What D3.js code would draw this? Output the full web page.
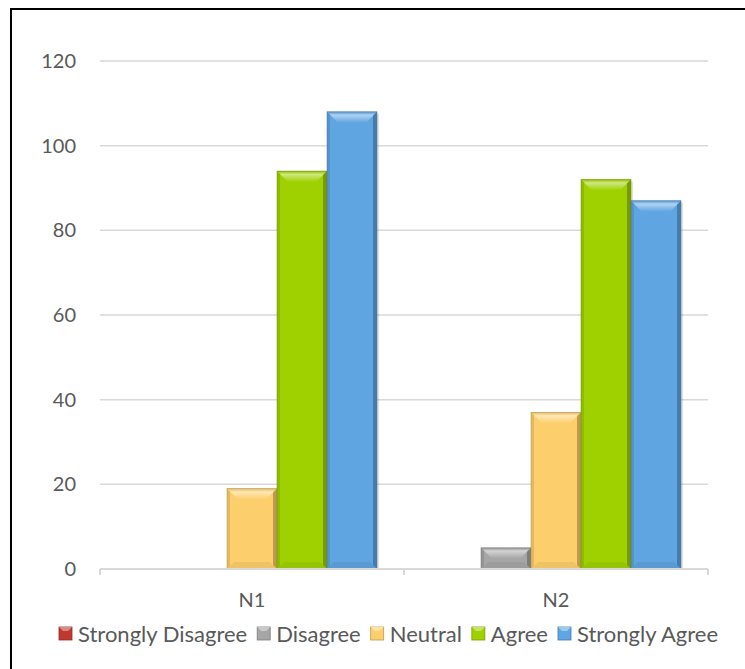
<!DOCTYPE html>
<html>
<head>
<meta charset="utf-8">
<script src="https://cdn.jsdelivr.net/npm/d3@7"></script>
<style>
  html, body { margin: 0; padding: 0; background: #fff; }
  svg { display: block; }
  text { font-family: Lato, "Open Sans", sans-serif; fill: #595959; }
</style>
</head>
<body>
<svg id="chart" width="745" height="669"></svg>
<script>
// Survey responses per item
const categories = ["N1", "N2"];
const seriesNames = ["Strongly Disagree", "Disagree", "Neutral", "Agree", "Strongly Agree"];
const seriesColors = ["#c0392f", "#a6a6a6", "#fdcf6c", "#9fd100", "#5fa5e2"];
const valuesN1 = [0, 0, 19, 94, 108];
const valuesN2 = [0, 5, 37, 92, 87];
const yTicks = [0, 20, 40, 60, 80, 100, 120];

const rows = [valuesN1, valuesN2];
const FONT = "20px";
const LEGEND_FONT = "22px";

const svg = d3.select("#chart");
const defs = svg.append("defs");

// Chart frame (top and left edges visible)
svg.append("path")
  .attr("d", "M11,669 L11,9 L745,9")
  .attr("fill", "none").attr("stroke", "#000").attr("stroke-width", 2);

const g = svg.append("g").attr("transform", "translate(100,61)");

const x0 = d3.scaleBand().domain(categories).range([0, 608]);
const x1 = d3.scaleBand().domain(seriesNames).range([27, x0.bandwidth() - 27]);
const y = d3.scaleLinear().domain([0, 120]).range([508, 0]);

// Gridlines
g.selectAll(".grid").data(yTicks.filter(d => d > 0)).join("line")
  .attr("x1", 0).attr("x2", 608)
  .attr("y1", d => y(d)).attr("y2", d => y(d))
  .attr("stroke", "#d9d9d9").attr("stroke-width", 1.5);

// Y tick labels
g.selectAll(".ylab").data(yTicks).join("text")
  .attr("x", -24).attr("y", d => y(d)).attr("dy", "0.35em")
  .attr("text-anchor", "end").style("font-size", FONT)
  .text(d => d);

// Gradients for the top bevel of each series
seriesColors.forEach((c, i) => {
  const base = d3.color(c);
  const gr = defs.append("linearGradient").attr("id", "top" + i)
    .attr("x1", 0).attr("y1", 0).attr("x2", 0).attr("y2", 1);
  gr.append("stop").attr("offset", "0%").attr("stop-color", base.darker(0.3).formatHex());
  gr.append("stop").attr("offset", "30%").attr("stop-color", d3.interpolateRgb(base, "#fff")(0.5));
  gr.append("stop").attr("offset", "100%").attr("stop-color", base.formatHex());
});

// Bars with bevelled edges
const pts = arr => arr.map(p => p.join(",")).join(" ");
categories.forEach((cat, ci) => {
  const gc = g.append("g").attr("transform", `translate(${x0(cat)},0)`);
  seriesNames.forEach((s, si) => {
    const v = rows[ci][si];
    if (!v) return;
    const bx = x1(s), bw = x1.bandwidth(), by = y(v), bh = y(0) - y(v);
    const base = d3.color(seriesColors[si]);
    const dark = base.darker(1.0);
    const mid = base.darker(0.4);
    const b = Math.min(11, bh / 2);
    // soft shadow
    gc.append("rect").attr("x", bx + 2).attr("y", by + 2).attr("width", bw).attr("height", bh - 2)
      .attr("fill", "#000").attr("opacity", 0.12);
    gc.append("rect").attr("x", bx).attr("y", by).attr("width", bw).attr("height", bh)
      .attr("fill", base.formatHex());
    // top bevel
    gc.append("polygon")
      .attr("points", pts([[bx, by], [bx + bw, by], [bx + bw - b, by + b], [bx + b, by + b]]))
      .attr("fill", `url(#top${si})`);
    // left bevel
    gc.append("polygon")
      .attr("points", pts([[bx, by], [bx + 3, by + 3], [bx + 3, by + bh - 3], [bx, by + bh]]))
      .attr("fill", mid.formatHex()).attr("opacity", 0.8);
    // right bevel
    gc.append("polygon")
      .attr("points", pts([[bx + bw, by], [bx + bw - 4, by + 4], [bx + bw - 4, by + bh - 4], [bx + bw, by + bh]]))
      .attr("fill", dark.formatHex()).attr("opacity", 0.85);
    // bottom bevel
    const bb = Math.min(7, bh / 3);
    gc.append("polygon")
      .attr("points", pts([[bx, by + bh], [bx + bb, by + bh - bb], [bx + bw - bb, by + bh - bb], [bx + bw, by + bh]]))
      .attr("fill", mid.formatHex()).attr("opacity", 0.45);
    // outline
    gc.append("rect").attr("x", bx).attr("y", by).attr("width", bw).attr("height", bh)
      .attr("fill", "none").attr("stroke", dark.formatHex()).attr("stroke-width", 0.8).attr("opacity", 0.6);
  });
});

// X axis line with boundary ticks
g.append("line").attr("x1", 0).attr("x2", 608).attr("y1", y(0)).attr("y2", y(0))
  .attr("stroke", "#d9d9d9").attr("stroke-width", 2);
const bounds = [0, x0.bandwidth(), 608];
g.selectAll(".xtick").data(bounds).join("line")
  .attr("x1", d => d).attr("x2", d => d).attr("y1", y(0)).attr("y2", y(0) + 6)
  .attr("stroke", "#d9d9d9").attr("stroke-width", 2);

// Category labels
g.selectAll(".xlab").data(categories).join("text")
  .attr("x", d => x0(d) + x0.bandwidth() / 2).attr("y", y(0) + 38)
  .attr("text-anchor", "middle").style("font-size", FONT)
  .text(d => d);

// Legend
const legend = svg.append("g").attr("transform", "translate(0,634)");
let lx = 59;
seriesNames.forEach((s, i) => {
  const base = d3.color(seriesColors[i]);
  const item = legend.append("g");
  item.append("rect").attr("x", lx).attr("y", -7).attr("width", 13).attr("height", 13)
    .attr("fill", base.formatHex()).attr("stroke", base.darker(0.8).formatHex()).attr("stroke-width", 0.8);
  item.append("polygon")
    .attr("points", `${lx},-7 ${lx + 13},-7 ${lx + 9},-3 ${lx + 4},-3`)
    .attr("fill", d3.interpolateRgb(base, "#fff")(0.4));
  const t = item.append("text").attr("x", lx + 19).attr("y", 0).attr("dy", "0.35em")
    .style("font-size", LEGEND_FONT).text(s);
  lx += 19 + t.node().getComputedTextLength() + 10;
});
</script>
</body>
</html>
